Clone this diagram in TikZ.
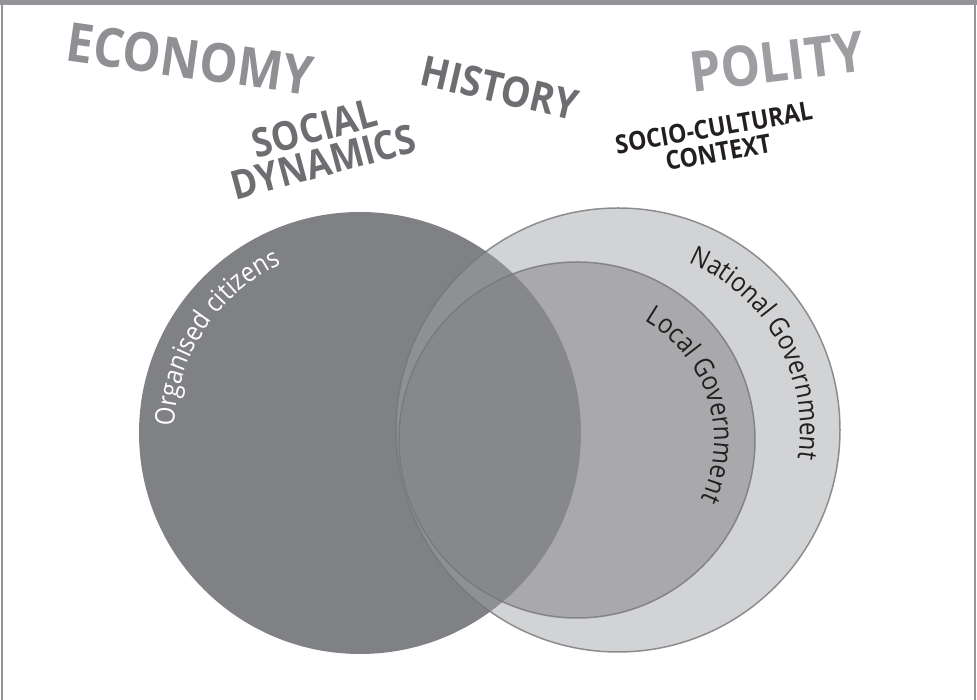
\documentclass[tikz,border=0pt]{standalone}
\usepackage{fontspec}
\setmainfont{Open Sans}
\newfontfamily\narrowsans[FakeStretch=0.89]{Open Sans}
\usepackage{xcolor}
\definecolor{vnDark}{HTML}{808185}
\definecolor{vnRing}{HTML}{A0A1A4}
\definecolor{vnInner}{HTML}{818286}
\definecolor{vnEdge}{HTML}{939598}
\definecolor{txtLight}{HTML}{9D9EA2}
\definecolor{txtMid}{HTML}{8F9094}
\definecolor{txtDark}{HTML}{6D6E71}
\definecolor{txtBlack}{HTML}{231F20}
\usepackage{tikz}
\usetikzlibrary{decorations.text}
\tikzset{context word/.style={font=\narrowsans\bfseries, inner sep=0pt, align=center}}
\tikzset{citizen circle/.style={circle, inner sep=0pt, fill=vnDark, minimum size=442pt}}
\tikzset{gov circle/.style={circle, inner sep=0pt, draw=vnEdge!80!black, line width=1.5pt, draw opacity=0.8}}
\newcommand{\arclabel}[2]{\narrowsans\fontsize{#1}{#1}\selectfont\color{#2}}

\begin{document}
\begin{tikzpicture}[x=1pt,y=1pt]
\useasboundingbox (0,0) rectangle (977,700);
%--------------------
% frame
%--------------------
\fill[vnEdge] (0,695) rectangle (977,700);
\draw[vnEdge, line width=1.5pt] (2,0) -- (2,700) (975,0) -- (975,700);

%--------------------
% the surrounding words
%--------------------
\node[context word, text=txtMid, font=\narrowsans\bfseries\fontsize{54}{56}\selectfont, rotate=-8](economy) at (190,641){ECONOMY};
\node[context word, text=txtDark, font=\narrowsans\bfseries\fontsize{42}{44}\selectfont, rotate=-13](history) at (500,612){HISTORY};
\node[context word, text=txtLight, font=\narrowsans\bfseries\fontsize{56}{58}\selectfont, rotate=7](polity) at (777,638){POLITY};
\node[context word, text=txtDark, font=\narrowsans\bfseries\fontsize{40}{35}\selectfont, rotate=15](social) at (319,555){SOCIAL\\DYNAMICS};
\node[context word, text=txtBlack, font=\narrowsans\bfseries\fontsize{26}{25}\selectfont, rotate=10](context) at (716,560){SOCIO-CULTURAL\\CONTEXT};

%--------------------
% citizens and government
%--------------------
\node[citizen circle](citizens) at (360,267){};
\node[gov circle, minimum size=444pt, fill=vnRing, fill opacity=0.47](national) at (618,270){};
\node[gov circle, minimum size=356pt, fill=vnInner, fill opacity=0.5](local) at (577,260){};

\path[decorate, decoration={text along path, text align=center,
  text={|\arclabel{27}{white}|Organised citizens}}]
  (citizens.center) ++(181:186) arc[start angle=181, end angle=112, radius=186];
\path[decorate, decoration={text along path, text align=center,
  text={|\arclabel{27}{txtBlack}|National Government}}]
  (national.center) ++(69:182) arc[start angle=69, end angle=-11, radius=182];
\path[decorate, decoration={text along path, text align=center,
  text={|\arclabel{27}{txtBlack}|Local Government}}]
  (local.center) ++(63:137) arc[start angle=63, end angle=-28, radius=137];
\end{tikzpicture}
\end{document}
